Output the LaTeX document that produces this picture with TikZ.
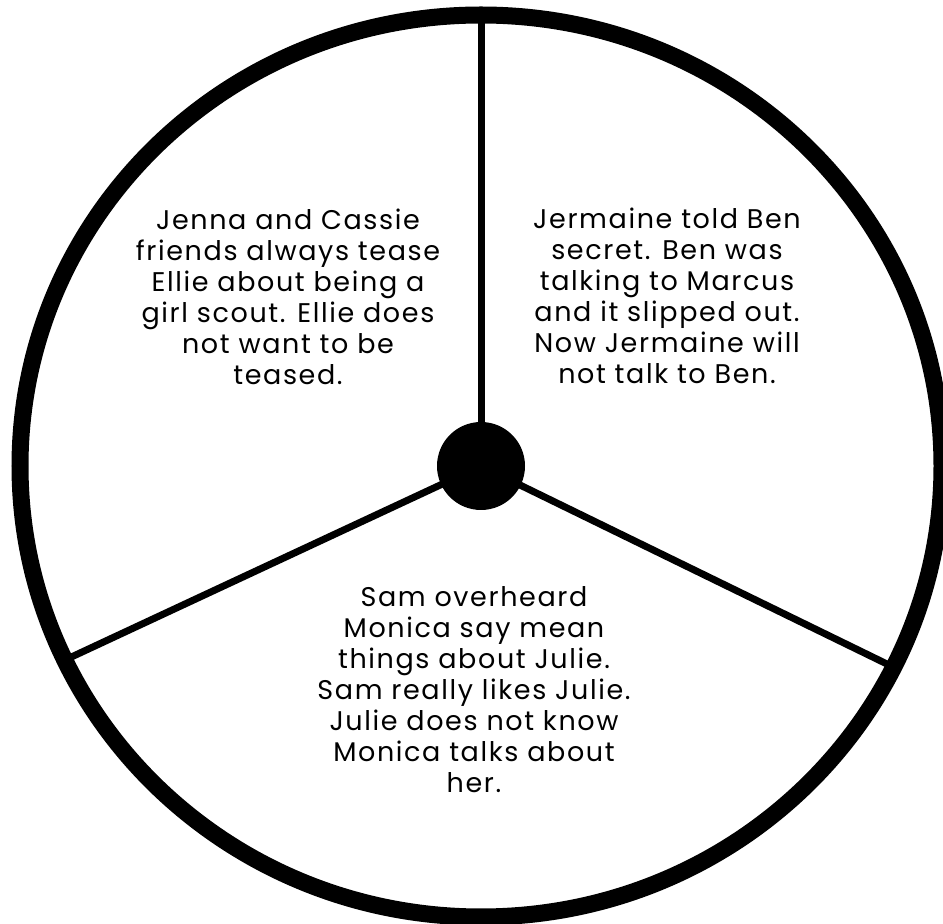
\documentclass[tikz,border=0pt]{standalone}
\usepackage{fontspec}
\setmainfont{Poppins}[LetterSpace=6]
\usetikzlibrary{shapes.geometric}

\begin{document}
\begin{tikzpicture}[
  x=1pt, y=1pt,
  rim/.style={draw, ellipse, line width=17pt, minimum width=922pt, minimum height=902pt,
              inner sep=0pt, outer sep=0pt},
  hubdot/.style={circle, fill=black, minimum size=88pt, inner sep=0pt, outer sep=0pt},
  spoke/.style={line width=7pt, draw=black},
  story/.style={align=center, inner sep=0pt, font=\fontsize{27}{31}\selectfont}
]
\useasboundingbox (0,0) rectangle (943,924);

\node[rim] (wheel) at (481,458) {};

\draw[spoke] (481,458) -- (wheel.90);
\draw[spoke] (481,458) -- (wheel.205.5);
\draw[spoke] (481,458) -- (wheel.334);
\node[hubdot] (hub) at (481,458) {};

\node[story] (ellie) at (288,627)
  {Jenna and Cassie\\friends always tease\\Ellie about being a\\girl scout. Ellie does\\not want to be\\teased.};
\node[story] (ben) at (667,628)
  {Jermaine told Ben\\secret. Ben was\\talking to Marcus\\and it slipped out.\\Now Jermaine will\\not talk to Ben.};
\node[story] (julie) at (474,234)
  {Sam overheard\\Monica say mean\\things about Julie.\\Sam really likes Julie.\\Julie does not know\\Monica talks about\\her.};
\end{tikzpicture}
\end{document}
